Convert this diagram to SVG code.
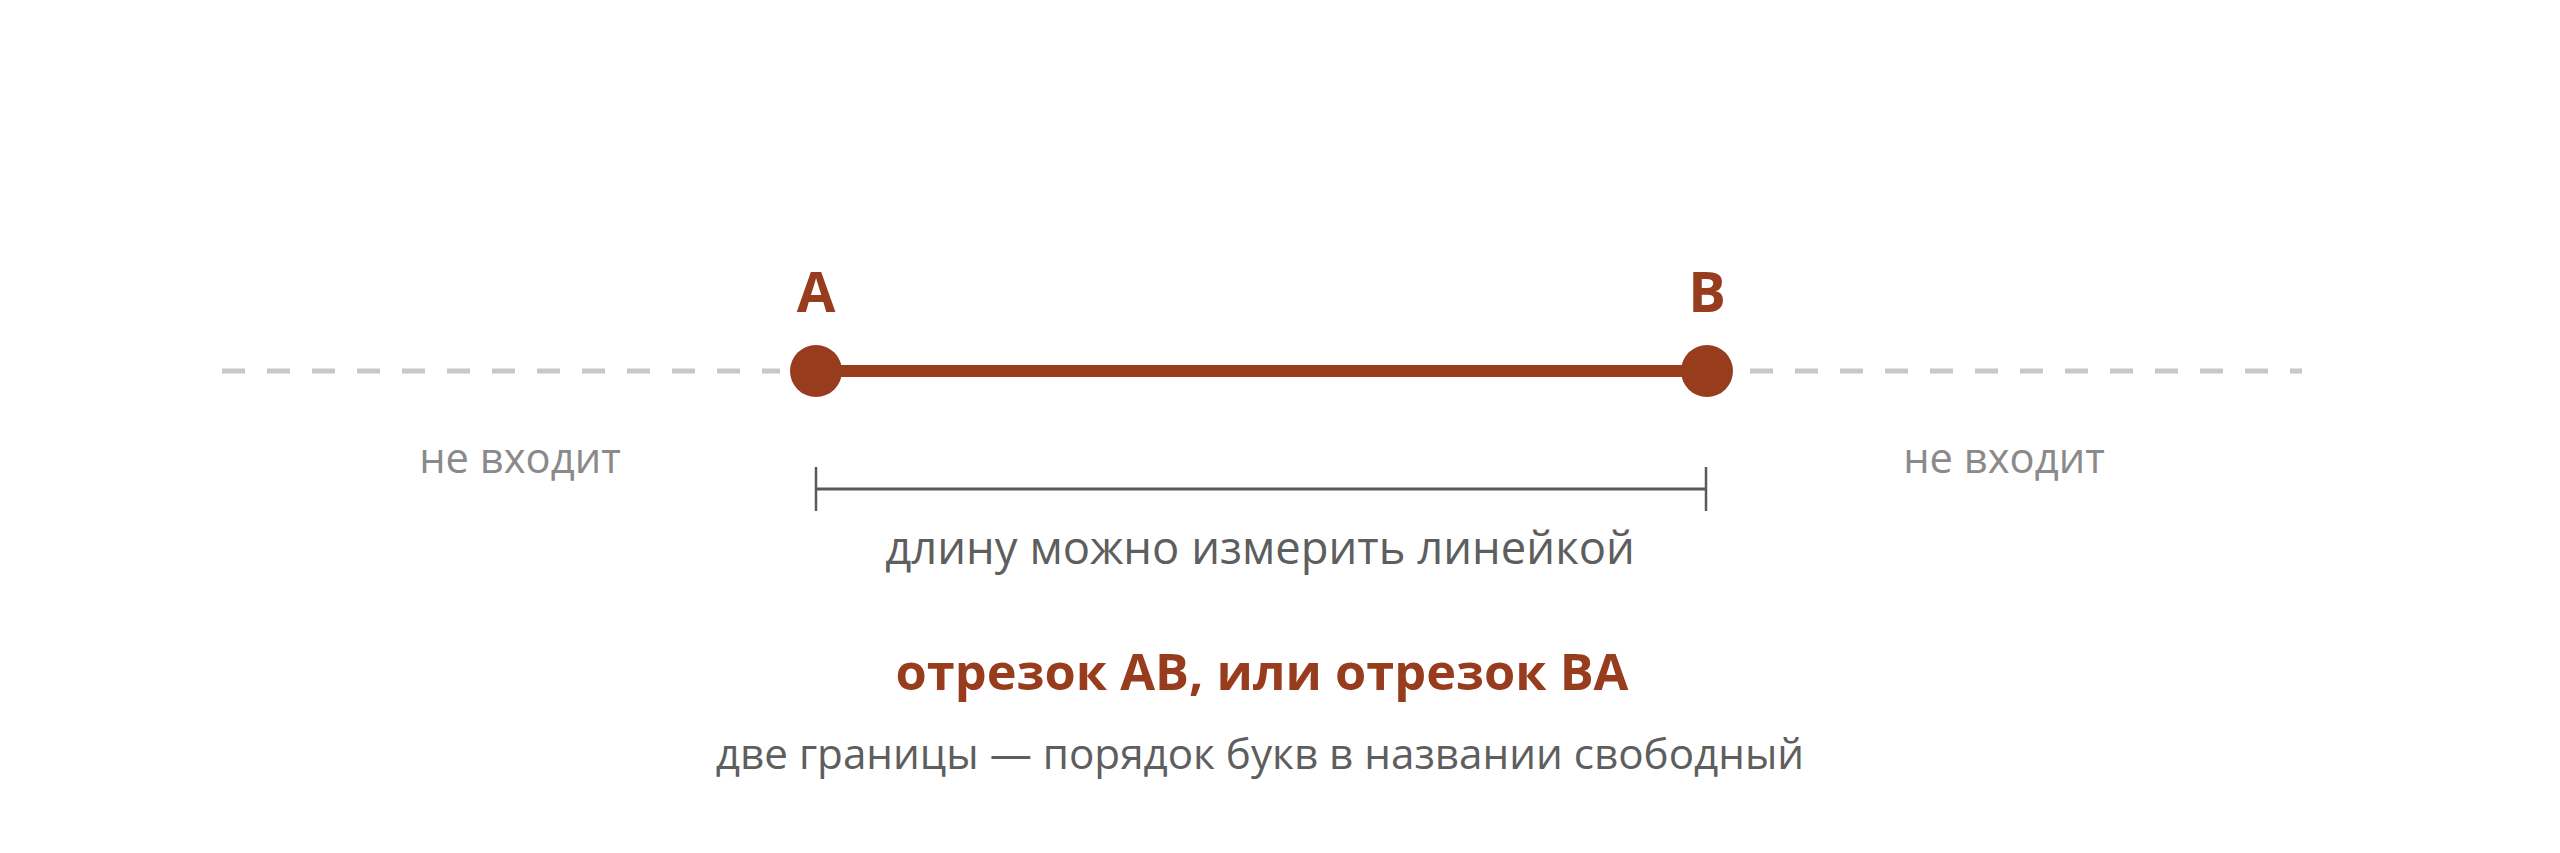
<svg xmlns="http://www.w3.org/2000/svg" width="2560" height="853" viewBox="0 0 2560 853">
<style>
text{font-family:"Open Sans","Noto Sans","Liberation Sans",sans-serif;text-anchor:middle}
.lbl{font-size:56px;font-weight:700;fill:#983C1E}
.out{font-size:41.7px;fill:#8A8A8A}
.meas{font-size:45.4px;fill:#5E5E5E}
.title{font-size:50.5px;font-weight:700;fill:#983C1E}
.sub{font-size:42.2px;fill:#5E5E5E}
.dash{stroke:#C8C8C8;stroke-width:5;stroke-dasharray:23 22;fill:none}
.seg{stroke:#983C1E;stroke-width:12;fill:none}
.pt{fill:#983C1E}
.br{stroke:#5A5A5A;fill:none}
</style>
<rect width="2560" height="853" fill="#FFFFFF"/>
<g id="connectors">
<line class="dash" x1="222" y1="371" x2="780" y2="371"/>
<line class="dash" x1="1750" y1="371" x2="2302" y2="371"/>
<line class="seg" x1="816" y1="371" x2="1707" y2="371"/>
<line class="br" stroke-width="3" x1="816" y1="489" x2="1706" y2="489"/>
<line class="br" stroke-width="2.5" x1="816" y1="467" x2="816" y2="511"/>
<line class="br" stroke-width="2.5" x1="1706" y1="467" x2="1706" y2="511"/>
</g>
<g id="pointA">
<circle class="pt" cx="816" cy="371" r="26"/>
<text class="lbl" x="816" y="312">A</text>
</g>
<g id="pointB">
<circle class="pt" cx="1707" cy="371" r="26"/>
<text class="lbl" x="1707" y="312">B</text>
</g>
<g id="outLeft"><text class="out" x="520" y="473">не входит</text></g>
<g id="outRight"><text class="out" x="2004" y="473">не входит</text></g>
<g id="measure"><text class="meas" x="1260" y="564">длину можно измерить линейкой</text></g>
<g id="title"><text class="title" x="1262" y="690">отрезок AB, или отрезок BA</text></g>
<g id="subtitle"><text class="sub" x="1260" y="769">две границы — порядок букв в названии свободный</text></g>
</svg>
